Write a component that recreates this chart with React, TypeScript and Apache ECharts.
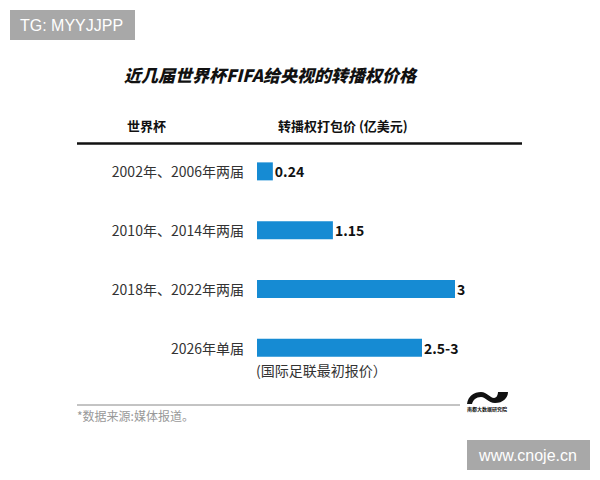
import React, { useEffect, useRef } from "react";
import * as echarts from "echarts";

const categories = ["2002年、2006年两届", "2010年、2014年两届", "2018年、2022年两届", "2026年单届"];
const values = [0.24, 1.15, 3, 2.5];
const valueLabels = ["0.24", "1.15", "3", "2.5-3"];

const FONT = "'Noto Sans CJK SC', 'Noto Sans', sans-serif";

echarts.graphic.registerShape(
  "ndlogo",
  echarts.graphic.extendPath(
    "M0,13 C1,5 7,1 14,1 C20,1 23,7 27,7 C30,7 31,3 31,1 L41,1 C41,7 36,12 28,12 C21,12 19,6 14,6 C9,6 6,9 5,13 Z",
    {}
  ) as any
);

export default function App() {
  const ref = useRef<HTMLDivElement>(null);
  useEffect(() => {
    if (!ref.current) return;
    const chart = echarts.init(ref.current, undefined, { renderer: "svg" });
    chart.setOption({
      animation: false,
      backgroundColor: "#ffffff",
      grid: { left: 257, width: 198, top: 142, height: 235, containLabel: false },
      xAxis: {
        type: "value",
        min: 0,
        max: 3,
        show: false,
      },
      yAxis: {
        type: "category",
        data: categories,
        inverse: true,
        axisLine: { show: false },
        axisTick: { show: false },
        splitLine: { show: false },
        axisLabel: {
          margin: 13,
          fontSize: 14,
          color: "#333",
          fontFamily: FONT,
        },
      },
      series: [
        {
          type: "bar",
          barWidth: 18,
          data: values,
          itemStyle: { color: "#168bd3" },
          label: {
            show: true,
            position: "right",
            distance: 2,
            fontSize: 14,
            fontWeight: "bold",
            color: "#111",
            fontFamily: FONT,
            formatter: (p: any) => valueLabels[p.dataIndex],
          },
        },
      ],
      graphic: [
        { type: "rect", shape: { x: 10, y: 10, width: 125, height: 30 }, style: { fill: "#a8a8a8" } },
        { type: "text", x: 20, y: 25, style: { text: "TG: MYYJJPP", fontSize: 16, fill: "#fff", fontFamily: "'Liberation Sans', Arial, sans-serif", verticalAlign: "middle" } },
        { type: "text", x: 270, y: 74, style: { text: "近几届世界杯FIFA给央视的转播权价格", fontSize: 17, fontWeight: 900, fontStyle: "italic", fill: "#111", fontFamily: FONT, align: "center", verticalAlign: "middle" } },
        { type: "text", x: 127, y: 125, style: { text: "世界杯", fontSize: 13, fontWeight: "bold", fill: "#111", fontFamily: FONT, verticalAlign: "middle" } },
        { type: "text", x: 278, y: 125, style: { text: "转播权打包价 (亿美元)", fontSize: 13, fontWeight: "bold", fill: "#111", fontFamily: FONT, verticalAlign: "middle" } },
        { type: "line", shape: { x1: 77, y1: 143.5, x2: 522, y2: 143.5 }, style: { stroke: "#111", lineWidth: 2.5 } },
        { type: "text", x: 256, y: 370, style: { text: "(国际足联最初报价）", fontSize: 14, fill: "#333", fontFamily: FONT, verticalAlign: "middle" } },
        { type: "line", shape: { x1: 77, y1: 405, x2: 460, y2: 405 }, style: { stroke: "#888", lineWidth: 1 } },
        { type: "text", x: 77, y: 415, style: { text: "*数据来源:媒体报道。", fontSize: 12, fill: "#999", fontFamily: FONT, verticalAlign: "middle" } },
        { type: "ndlogo", x: 467, y: 391, scaleX: 1, scaleY: 1, style: { fill: "#111" } },
        { type: "text", x: 487, y: 408, style: { text: "南都大数据研究院", fontSize: 5, fontWeight: "bold", fill: "#111", fontFamily: FONT, align: "center", verticalAlign: "middle" } },
        { type: "rect", shape: { x: 467, y: 440, width: 123, height: 30 }, style: { fill: "#a8a8a8" } },
        { type: "text", x: 528, y: 455, style: { text: "www.cnoje.cn", fontSize: 16, fill: "#fff", fontFamily: "'Liberation Sans', Arial, sans-serif", align: "center", verticalAlign: "middle" } },
      ],
    });
    return () => chart.dispose();
  }, []);
  return (
    <div
      ref={ref}
      style={{ position: "fixed", left: 0, top: 0, width: 600, height: 480, background: "#fff" }}
    />
  );
}
